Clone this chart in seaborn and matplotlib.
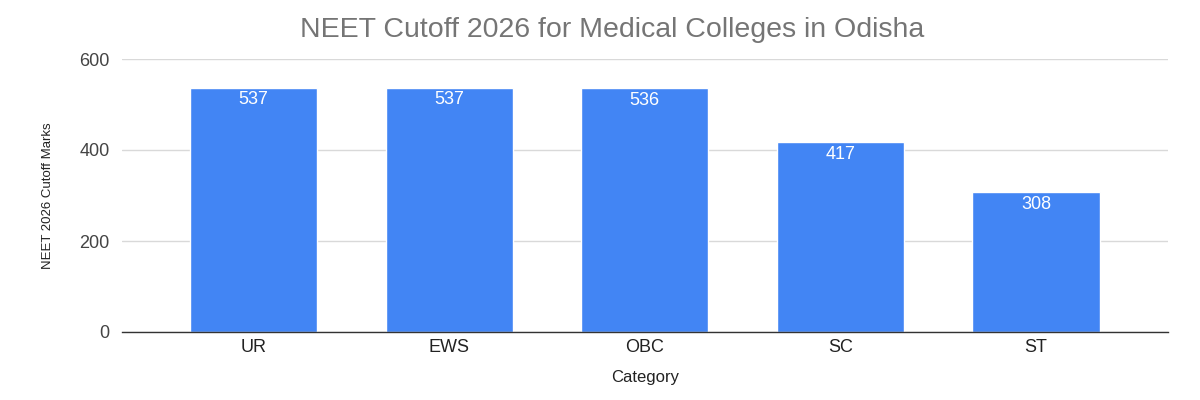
import matplotlib
matplotlib.use("Agg")
import matplotlib.pyplot as plt
import seaborn as sns
import pandas as pd

categories = ["UR", "EWS", "OBC", "SC", "ST"]
cutoffs = [537, 537, 536, 417, 308]
yticks = [0, 200, 400, 600]

title = "NEET Cutoff 2026 for Medical Colleges in Odisha"
xlabel = "Category"
ylabel = "NEET 2026 Cutoff Marks"

sns.set_theme(style="white")
plt.rcParams['font.family'] = ['Liberation Sans', 'DejaVu Sans']

df = pd.DataFrame({"Category": categories, "Cutoff": cutoffs})

fig = plt.figure(figsize=(12, 4), dpi=100)
ax = fig.add_axes([0.1017, 0.17, 0.8713, 0.6825])

sns.barplot(data=df, x="Category", y="Cutoff", color="#4285F4", saturation=1,
            width=0.65, ax=ax, zorder=3)

ax.set_xlim(-0.673, 4.673)
ax.set_ylim(0, 600)
ax.set_yticks(yticks)
ax.set_yticklabels([str(v) for v in yticks], fontsize=13, color="#444444")
ax.tick_params(axis="x", labelsize=13, labelcolor="#222222", length=0, pad=5)
ax.tick_params(axis="y", length=0, pad=9)
ax.grid(axis="y", color="#d9d9d9", linewidth=1, zorder=0)
for s in ["top", "right", "left"]:
    ax.spines[s].set_visible(False)
ax.spines["bottom"].set_color("#333333")
ax.spines["bottom"].set_linewidth(1)
ax.spines["bottom"].set_zorder(4)

for c in ax.containers:
    ax.bar_label(c, labels=[str(v) for v in cutoffs], padding=-15,
                 color="white", fontsize=13)

ax.set_xlabel(xlabel, fontsize=12, color="#222222", labelpad=10)
ax.set_ylabel(ylabel, fontsize=9.5, color="#222222", labelpad=18)
fig.text(0.51, 0.925, title, ha="center", va="center", fontsize=20.5, color="#757575")

fig.savefig("out.png", dpi=100, facecolor="white")
